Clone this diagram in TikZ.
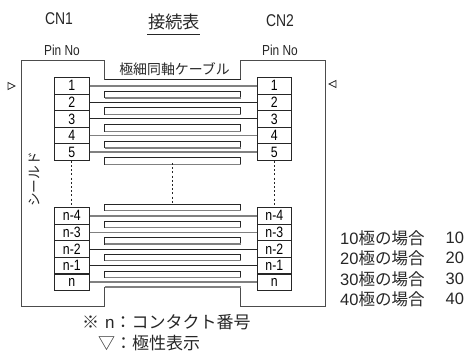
\documentclass[tikz,border=0pt]{standalone}
\usepackage{fontspec}
\setmainfont{Noto Sans CJK JP}
\newfontfamily\latinf{Liberation Sans}
\newcommand{\nar}[1]{\scalebox{0.82}[1]{\latinf #1}}
\tikzset{
  pinbox/.style={draw=black!85,line width=0.9pt,minimum width=34.5pt,minimum height=16.5pt,inner sep=0pt,font=\fontsize{15}{15}\selectfont},
  blk/.style={draw=black!85,line width=1pt},
  gry/.style={draw=black!50,line width=1.5pt},
  thin1/.style={draw=black!70,line width=1pt},
  dots/.style={draw=black!85,line width=0.8pt,dash pattern=on 2pt off 2.2pt},
  lab/.style={inner sep=0pt,text=black!85},
}
\begin{document}
\begin{tikzpicture}[x=1pt,y=-1pt]
\useasboundingbox (0,0) rectangle (464,353);
% shield
\draw[thin1] (104.5,80) -- (104.5,61) -- (21,61) -- (21,306.5) -- (104.5,306.5) -- (104.5,287);
\draw[thin1] (240.5,80) -- (240.5,61) -- (325,61) -- (325,306.5) -- (240.5,306.5) -- (240.5,287);
\draw[blk] (104.5,80) -- (240.5,80);
\draw[gry] (104.5,287) -- (240.5,287);
% pins
\foreach \i/\y/\t in {1/85.8/1,2/102.4/2,3/119/3,4/135.6/4,5/152.2/5,6/215.8/n-4,7/232.4/n-3,8/249/n-2,9/265.6/n-1,10/282.2/n}{
  \node[pinbox] (L\i) at (71.8,\y) {\nar{\t}};
  \node[pinbox] (R\i) at (274.3,\y) {\nar{\t}};
}
\foreach \i/\s in {1/gry,2/blk,3/blk,4/gry,5/gry,6/gry,7/gry,8/blk,9/blk,10/gry}{
  \draw[\s] (L\i.east) -- (R\i.west);
}
% loops
\foreach \y in {91.5,108,124.8,141.5,158,204,221,237.5,254,271}{
  \draw[blk] (240.5,\y+6.5) -- (104.5,\y+6.5) -- (104.5,\y) -- (240.5,\y) -- cycle;
  \draw[gry] (104.5,\y+6.5) -- (240.5,\y+6.5);
}
% dotted
\coordinate (mt) at (172,163); \coordinate (mb) at (172,204);
\draw[dots] (L5.south) -- (L6.north);
\draw[dots] (R5.south) -- (R6.north);
\draw[dots] (mt) -- (mb);
% polarity marks
\draw[black!85,line width=0.7pt] (8,82.5) -- (15,86) -- (8,89.5) -- cycle;
\draw[black!85,line width=0.7pt] (336,80.5) -- (329,84) -- (336,87.5) -- cycle;
% labels
\node[lab,font=\fontsize{17}{17}\selectfont] (cn1) at (59,19) {\nar{CN1}};
\node[lab,font=\fontsize{17}{17}\selectfont] (cn2) at (280,21) {\nar{CN2}};
\node[lab,font=\fontsize{17.3}{18}\selectfont] (title) at (174,22) {接続表};
\draw[black!85,line width=0.9pt] (147,34) -- (200,34);
\node[lab,font=\fontsize{14.5}{15}\selectfont] (p1) at (62,50) {\nar{Pin No}};
\node[lab,font=\fontsize{14.5}{15}\selectfont] (p2) at (280,50) {\nar{Pin No}};
\node[lab,font=\fontsize{13.9}{14}\selectfont] (cable) at (174.5,69) {極細同軸ケーブル};
\node[lab,rotate=90,font=\fontsize{13.7}{14}\selectfont] (sh) at (35,179.5) {シールド};
\node[lab,anchor=west,font=\fontsize{17}{17}\selectfont] (n1) at (82,322) {※\hspace{6pt}{\latinf n}：コンタクト番号};
\node[lab,anchor=west,font=\fontsize{17}{17}\selectfont] (n2) at (98,343) {▽：極性表示};
\foreach \y/\a in {238/10,258/20,279/30,299/40}{
  \node[lab,anchor=west,font=\fontsize{16.5}{17}\selectfont] at (340,\y) {{\latinf \a}極の場合};
  \node[lab,anchor=west,font=\fontsize{16.5}{17}\selectfont] at (445.5,\y) {\latinf \a};
}
\end{tikzpicture}
\end{document}
